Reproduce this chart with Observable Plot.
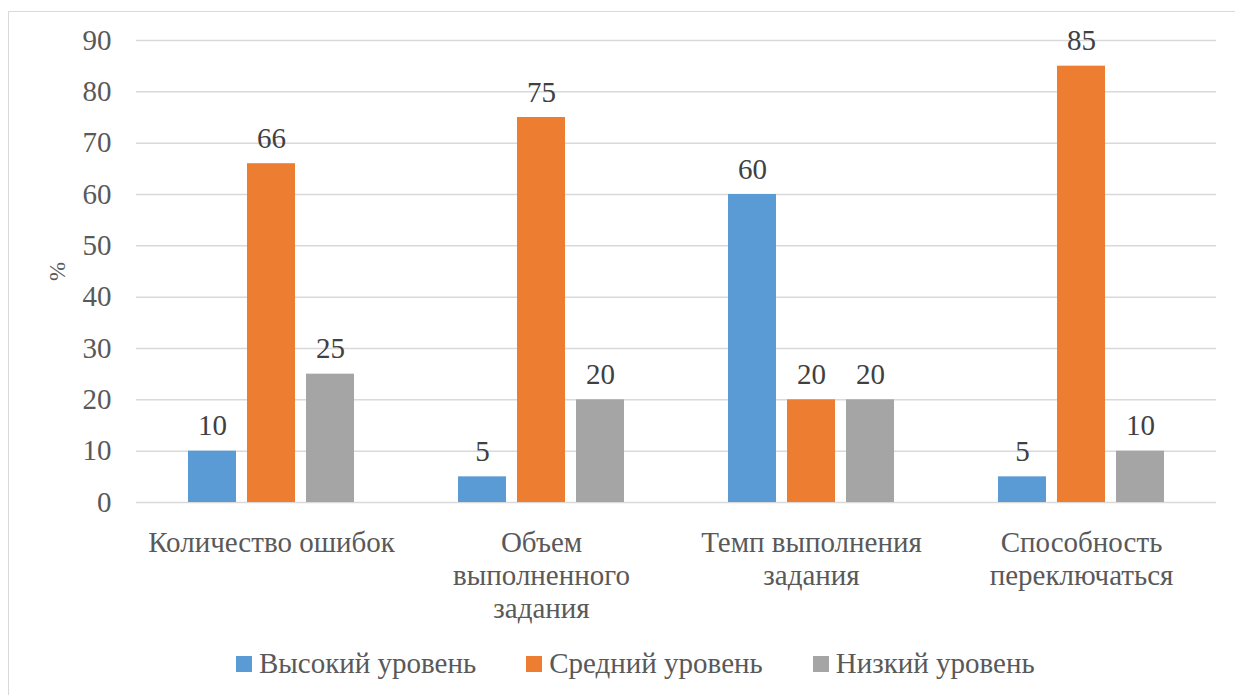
<!DOCTYPE html>
<html>
<head>
<meta charset="utf-8">
<script src="https://cdn.jsdelivr.net/npm/d3@7"></script>
<script src="https://cdn.jsdelivr.net/npm/@observablehq/plot@0.6"></script>
<style>
  html, body { margin: 0; padding: 0; background: #fff; }
  body { width: 1235px; height: 695px; position: relative; overflow: hidden;
         font-family: "Liberation Serif", "Times New Roman", serif; color: #595959; }
  #frame { position: absolute; left: 8px; top: 11px; width: 1260px; height: 720px;
           border: 1px solid #d9d9d9; box-sizing: border-box; }
  #chart { position: absolute; left: 0; top: 0; }
  #legend { position: absolute; left: 236px; top: 646px; display: flex; align-items: center;
            font-size: 29px; line-height: 34px; white-space: nowrap; }
  .item { display: flex; align-items: center; margin-right: 50px; }
  .sw { width: 16px; height: 16px; margin-right: 7px; position: relative; top: 1px; }
</style>
</head>
<body>
<div id="frame"></div>
<div id="chart"></div>
<div id="legend"></div>
<script>
const categories = ["Количество ошибок", "Объем выполненного задания", "Темп выполнения задания", "Способность переключаться"];
const categoryLabels = ["Количество ошибок", "Объем\nвыполненного\nзадания", "Темп выполнения\nзадания", "Способность\nпереключаться"];
const series = ["Высокий уровень", "Средний уровень", "Низкий уровень"];
const colors = ["#5B9BD5", "#ED7D31", "#A5A5A5"];
const high = [10, 5, 60, 5];
const mid = [66, 75, 20, 85];
const low = [25, 20, 20, 10];
const yTicks = [0, 10, 20, 30, 40, 50, 60, 70, 80, 90];

const seriesValues = [high, mid, low];
const data = [];
categories.forEach((c, i) => {
  series.forEach((s, j) => data.push({category: c, series: s, value: seriesValues[j][i]}));
});

const font = "'Liberation Serif', 'Times New Roman', serif";

const chart = Plot.plot({
  width: 1235,
  height: 640,
  marginLeft: 136,
  marginRight: 19,
  marginTop: 40,
  marginBottom: 138,
  style: {fontFamily: font, color: "#595959", background: "transparent"},
  fx: {domain: categories, padding: 0, axis: null},
  x: {domain: series, paddingInner: 0.19, paddingOuter: 0.87, axis: null},
  y: {domain: [0, 90], ticks: yTicks},
  color: {domain: series, range: colors},
  marks: [
    Plot.gridY(yTicks, {stroke: "#d9d9d9", strokeOpacity: 1, strokeWidth: 1.5}),
    Plot.barY(data, {fx: "category", x: "series", y: "value", fill: "series"}),
    Plot.text(data, {fx: "category", x: "series", y: "value", text: d => String(d.value),
      lineAnchor: "bottom", dy: -16, fontSize: 29, fill: "#404040"}),
    Plot.axisY(yTicks, {tickSize: 0, tickPadding: 25, fontSize: 29, fill: "#595959",
      label: "%", labelAnchor: "center", labelArrow: "none", labelOffset: 88}),
    Plot.axisFx({anchor: "bottom", tickSize: 0, tickPadding: 26, fontSize: 29, lineHeight: 1.14, fill: "#595959",
      label: null, tickFormat: d => categoryLabels[categories.indexOf(d)]})
  ]
});
document.getElementById("chart").appendChild(chart);

chart.querySelectorAll("text").forEach(t => {
  if (t.textContent === "%") t.setAttribute("font-size", 23);
});

const legend = document.getElementById("legend");
series.forEach((s, i) => {
  const item = document.createElement("div");
  item.className = "item";
  const sw = document.createElement("div");
  sw.className = "sw";
  sw.style.background = colors[i];
  const lab = document.createElement("span");
  lab.textContent = s;
  item.appendChild(sw);
  item.appendChild(lab);
  legend.appendChild(item);
});
</script>
</body>
</html>
